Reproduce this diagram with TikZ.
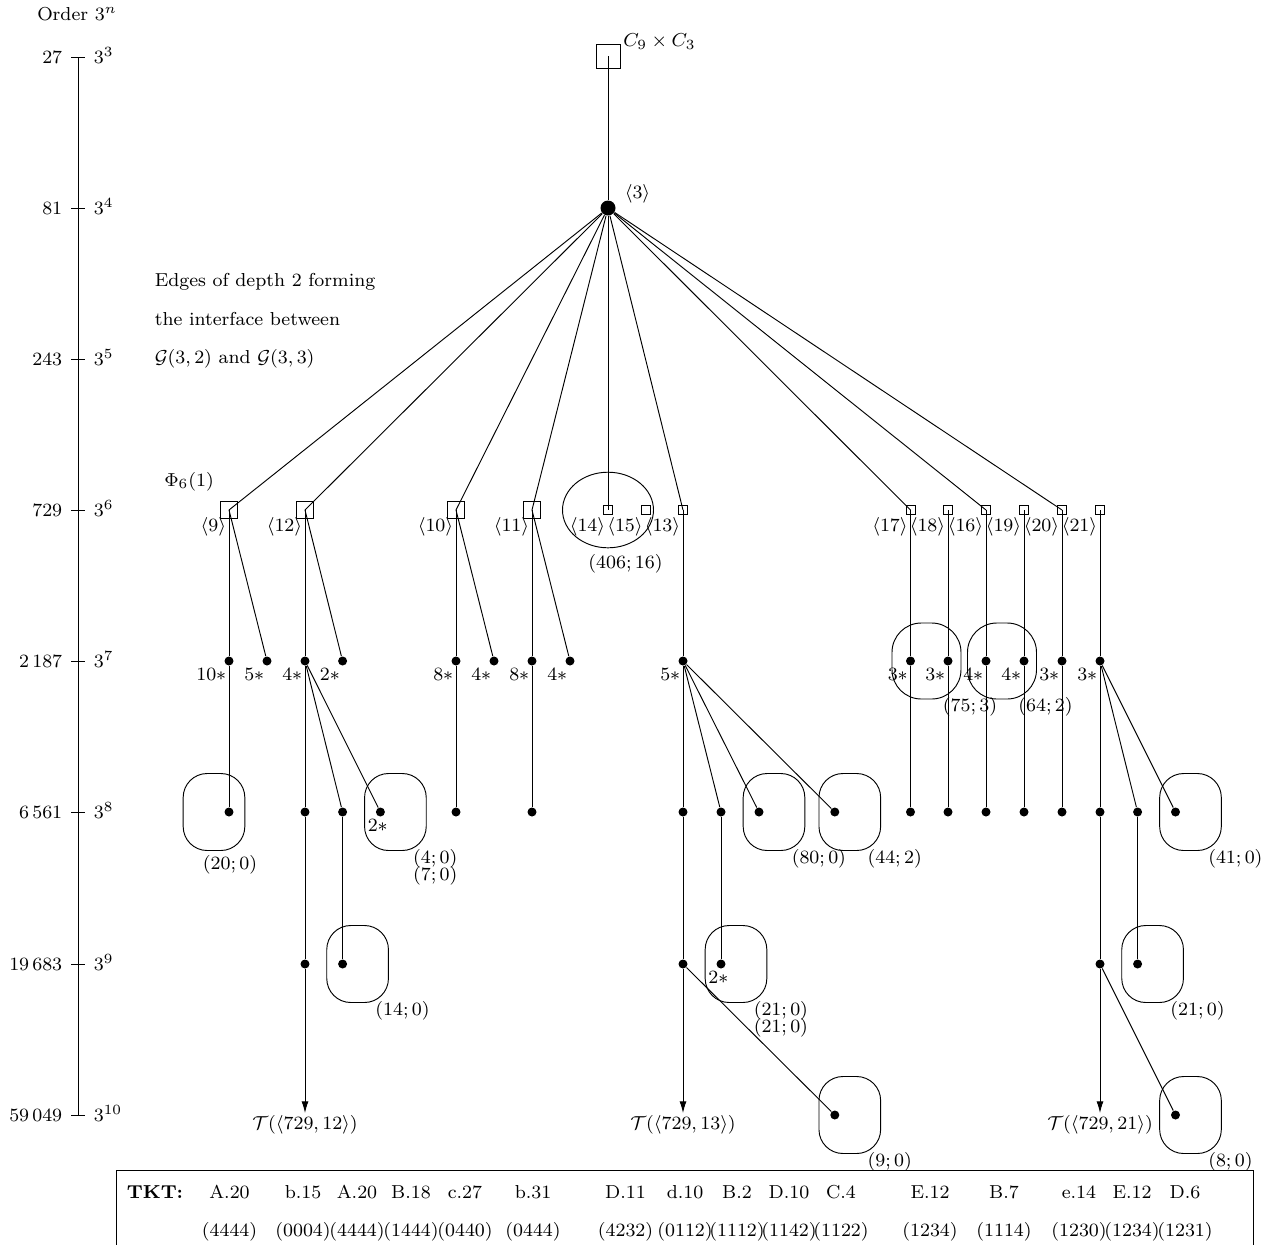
\documentclass[tikz,border=0pt]{standalone}
\usepackage{amsmath, amssymb}
\usepackage{tikz}
\usetikzlibrary{positioning, arrows.meta, shapes.geometric}

\begin{document}
\begin{tikzpicture}[
    x=0.015cm, y=-0.015cm,
    node_lbl/.style={font=\footnotesize, inner sep=1pt},
    node_sq_big/.style={rectangle, draw, inner sep=0pt, minimum size=0.36cm},
    node_sq/.style={rectangle, draw, inner sep=0pt, minimum size=0.255cm},
    node_sq_small/.style={rectangle, draw, inner sep=0pt, minimum size=0.135cm},
    node_dot/.style={circle, fill, inner sep=0pt, minimum size=0.135cm},
    node_dot_big/.style={circle, fill, inner sep=0pt, minimum size=0.225cm},
    node_box/.style={rectangle, draw, rounded corners=0.36cm, inner sep=0pt,
                     minimum width=0.925cm, minimum height=1.155cm},
    node_ring/.style={rectangle, draw, rounded corners=0.44cm, inner sep=0pt,
                      minimum width=1.035cm, minimum height=1.14cm},
    node_oval/.style={ellipse, draw, inner sep=0pt,
                      minimum width=1.365cm, minimum height=1.134cm},
    edge_path/.style={line width=0.4pt},
    edge_arrow/.style={->, >={Latex[length=5pt, width=3pt]}}
  ]
    \useasboundingbox (0,0) rectangle (1272,1245);

    % order axis
    \node[node_lbl] (order) at (77,14) {Order $3^n$};
    \draw (78,57) -- (78,1115);
    \draw (71,57) -- (85,57);
    \draw (71,208) -- (85,208);
    \draw (71,359) -- (85,359);
    \draw (71,510) -- (85,510);
    \draw (71,661) -- (85,661);
    \draw (71,812) -- (85,812);
    \draw (71,964) -- (85,964);
    \draw (71,1115) -- (85,1115);
    \node[node_lbl, anchor=base east] (ax27) at (65,63) {27};
    \node[node_lbl, anchor=base east] (ax81) at (65,214) {81};
    \node[node_lbl, anchor=base east] (ax243) at (65,365) {243};
    \node[node_lbl, anchor=base east] (ax729) at (65,516) {729};
    \node[node_lbl, anchor=base east] (ax2187) at (65,667) {2\,187};
    \node[node_lbl, anchor=base east] (ax6561) at (65,818) {6\,561};
    \node[node_lbl, anchor=base east] (ax19683) at (65,970) {19\,683};
    \node[node_lbl, anchor=base east] (ax59049) at (65,1121) {59\,049};
    \node[node_lbl, anchor=base west] (ex3) at (91,63) {$3^{3}$};
    \node[node_lbl, anchor=base west] (ex4) at (91,214) {$3^{4}$};
    \node[node_lbl, anchor=base west] (ex5) at (91,365) {$3^{5}$};
    \node[node_lbl, anchor=base west] (ex6) at (91,516) {$3^{6}$};
    \node[node_lbl, anchor=base west] (ex7) at (91,667) {$3^{7}$};
    \node[node_lbl, anchor=base west] (ex8) at (91,818) {$3^{8}$};
    \node[node_lbl, anchor=base west] (ex9) at (91,970) {$3^{9}$};
    \node[node_lbl, anchor=base west] (ex10) at (91,1121) {$3^{10}$};

    \node[node_lbl, anchor=base west] (iface1) at (152,286) {Edges of depth 2 forming};
    \node[node_lbl, anchor=base west] (iface2) at (152,325) {the interface between};
    \node[node_lbl, anchor=base west] (iface3) at (152,363) {$\mathcal{G}(3,2)$ and $\mathcal{G}(3,3)$};

    % root and its child
    \node[node_sq_big] (c27) at (608,56) {};
    \node[node_lbl, right=0pt of c27.north east, yshift=0.03cm] (lc27) {$C_9\times C_3$};
    \node[node_dot_big] (d81) at (608,208) {};
    \node[node_lbl, anchor=south west] (ld81) at ([xshift=0.09cm, yshift=0.03cm]d81.east) {$\langle 3\rangle$};

    % order 729
    \node[node_sq] (g9) at (229,510) {};
    \node[node_sq] (g12) at (305,510) {};
    \node[node_sq] (g10) at (456,510) {};
    \node[node_sq] (g11) at (532,510) {};
    \node[node_sq_small] (g14) at (608,510) {};
    \node[node_sq_small] (g15) at (645.5,510) {};
    \node[node_sq_small] (g13) at (683,510) {};
    \node[node_sq_small] (g17) at (910.5,510) {};
    \node[node_sq_small] (g18) at (948,510) {};
    \node[node_sq_small] (g16) at (986,510) {};
    \node[node_sq_small] (g19) at (1024,510) {};
    \node[node_sq_small] (g20) at (1062,510) {};
    \node[node_sq_small] (g21) at (1100,510) {};

    \node[node_lbl, anchor=north east] (lg9) at ([yshift=-0.075cm]g9.center) {$\langle 9\rangle$};
    \node[node_lbl, anchor=north east] (lg12) at ([yshift=-0.075cm]g12.center) {$\langle 12\rangle$};
    \node[node_lbl, anchor=north east] (lg10) at ([yshift=-0.075cm]g10.center) {$\langle 10\rangle$};
    \node[node_lbl, anchor=north east] (lg11) at ([yshift=-0.075cm]g11.center) {$\langle 11\rangle$};
    \node[node_lbl, anchor=north east] (lg14) at ([yshift=-0.075cm]g14.center) {$\langle 14\rangle$};
    \node[node_lbl, anchor=north east] (lg15) at ([yshift=-0.075cm]g15.center) {$\langle 15\rangle$};
    \node[node_lbl, anchor=north east] (lg13) at ([yshift=-0.075cm]g13.center) {$\langle 13\rangle$};
    \node[node_lbl, anchor=north east] (lg17) at ([yshift=-0.075cm]g17.center) {$\langle 17\rangle$};
    \node[node_lbl, anchor=north east] (lg18) at ([yshift=-0.075cm]g18.center) {$\langle 18\rangle$};
    \node[node_lbl, anchor=north east] (lg16) at ([yshift=-0.075cm]g16.center) {$\langle 16\rangle$};
    \node[node_lbl, anchor=north east] (lg19) at ([yshift=-0.075cm]g19.center) {$\langle 19\rangle$};
    \node[node_lbl, anchor=north east] (lg20) at ([yshift=-0.075cm]g20.center) {$\langle 20\rangle$};
    \node[node_lbl, anchor=north east] (lg21) at ([yshift=-0.075cm]g21.center) {$\langle 21\rangle$};
    \node[node_lbl, above left=0.11cm and 0.05cm of g9] (phi) {$\Phi_6(1)$};

    \node[node_oval] (e1415) at (g14) {};
    \node[node_lbl, anchor=north west] (le1415) at ([xshift=-0.335cm, yshift=-0.055cm]e1415.south) {$(406;16)$};

    % order 2187
    \node[node_dot] (n9a) at (229,661) {};
    \node[node_dot] (n9b) at (267,661) {};
    \node[node_dot] (n12a) at (305,661) {};
    \node[node_dot] (n12b) at (342.6,661) {};
    \node[node_dot] (n10a) at (456,661) {};
    \node[node_dot] (n10b) at (494,661) {};
    \node[node_dot] (n11a) at (532,661) {};
    \node[node_dot] (n11b) at (570,661) {};
    \node[node_dot] (n13a) at (683,661) {};
    \node[node_dot] (n17a) at (910.5,661) {};
    \node[node_dot] (n18a) at (948,661) {};
    \node[node_dot] (n16a) at (986,661) {};
    \node[node_dot] (n19a) at (1024,661) {};
    \node[node_dot] (n20a) at (1062,661) {};
    \node[node_dot] (n21a) at (1100,661) {};

    \node[node_lbl, anchor=north east] (ln9a) at (n9a.south) {$10*$};
    \node[node_lbl, anchor=north east] (ln9b) at (n9b.south) {$5*$};
    \node[node_lbl, anchor=north east] (ln12a) at (n12a.south) {$4*$};
    \node[node_lbl, anchor=north east] (ln12b) at (n12b.south) {$2*$};
    \node[node_lbl, anchor=north east] (ln10a) at (n10a.south) {$8*$};
    \node[node_lbl, anchor=north east] (ln10b) at (n10b.south) {$4*$};
    \node[node_lbl, anchor=north east] (ln11a) at (n11a.south) {$8*$};
    \node[node_lbl, anchor=north east] (ln11b) at (n11b.south) {$4*$};
    \node[node_lbl, anchor=north east] (ln13a) at (n13a.south) {$5*$};
    \node[node_lbl, anchor=north east] (ln17a) at (n17a.south) {$3*$};
    \node[node_lbl, anchor=north east] (ln18a) at (n18a.south) {$3*$};
    \node[node_lbl, anchor=north east] (ln16a) at (n16a.south) {$4*$};
    \node[node_lbl, anchor=north east] (ln19a) at (n19a.south) {$4*$};
    \node[node_lbl, anchor=north east] (ln20a) at (n20a.south) {$3*$};
    \node[node_lbl, anchor=north east] (ln21a) at (n21a.south) {$3*$};

    \node[node_ring] (e1718) at ([xshift=0.24cm]n17a) {};
    \node[node_ring] (e1619) at ([xshift=0.24cm]n16a) {};
    \node[node_lbl, anchor=north west] (le1718) at ([xshift=-0.32cm, yshift=0.07cm]e1718.south east) {$(75;3)$};
    \node[node_lbl, anchor=north west] (le1619) at ([xshift=-0.32cm, yshift=0.07cm]e1619.south east) {$(64;2)$};

    % order 6561
    \node[node_dot] (m9) at (229,812) {};
    \node[node_dot] (m12a) at (305,812) {};
    \node[node_dot] (m12b) at (342.6,812) {};
    \node[node_dot] (m12c) at (380.4,812) {};
    \node[node_dot] (m10) at (456,812) {};
    \node[node_dot] (m11) at (532,812) {};
    \node[node_dot] (m13a) at (683,812) {};
    \node[node_dot] (m13b) at (721,812) {};
    \node[node_dot] (m13c) at (759,812) {};
    \node[node_dot] (m13d) at (834.8,812) {};
    \node[node_dot] (m17) at (910.5,812) {};
    \node[node_dot] (m18) at (948,812) {};
    \node[node_dot] (m16) at (986,812) {};
    \node[node_dot] (m19) at (1024,812) {};
    \node[node_dot] (m20) at (1062,812) {};
    \node[node_dot] (m21a) at (1100,812) {};
    \node[node_dot] (m21b) at (1137.6,812) {};
    \node[node_dot] (m21c) at (1175.5,812) {};

    \node[node_box] (b9) at ([xshift=-0.225cm]m9) {};
    \node[node_box] (b12c) at ([xshift=0.225cm]m12c) {};
    \node[node_box] (b13c) at ([xshift=0.225cm]m13c) {};
    \node[node_box] (b13d) at ([xshift=0.225cm]m13d) {};
    \node[node_box] (b21c) at ([xshift=0.225cm]m21c) {};
    \node[node_lbl, anchor=north] (lb9) at ([xshift=0.24cm, yshift=-0.03cm]b9.south) {$(20;0)$};
    \node[node_lbl, anchor=north] (lm12c) at ([xshift=-0.04cm]m12c.south) {$2*$};
    \node[node_lbl, anchor=north west] (lb12c) at ([xshift=-0.245cm, yshift=0.063cm]b12c.south east) {$(4;0)$};
    \node[node_lbl, below=-0.11cm of lb12c] (lb12cc) {$(7;0)$};
    \node[node_lbl, anchor=north west] (lb13c) at ([xshift=-0.245cm, yshift=0.063cm]b13c.south east) {$(80;0)$};
    \node[node_lbl, anchor=north west] (lb13d) at ([xshift=-0.245cm, yshift=0.063cm]b13d.south east) {$(44;2)$};
    \node[node_lbl, anchor=north west] (lb21c) at ([xshift=-0.245cm, yshift=0.063cm]b21c.south east) {$(41;0)$};

    % order 19683
    \node[node_dot] (k12a) at (305,964) {};
    \node[node_dot] (k12b) at (342.6,964) {};
    \node[node_dot] (k13a) at (683,964) {};
    \node[node_dot] (k13b) at (721,964) {};
    \node[node_dot] (k21a) at (1100,964) {};
    \node[node_dot] (k21b) at (1137.6,964) {};

    \node[node_box] (b12k) at ([xshift=0.225cm]k12b) {};
    \node[node_box] (b13k) at ([xshift=0.225cm]k13b) {};
    \node[node_box] (b21k) at ([xshift=0.225cm]k21b) {};
    \node[node_lbl, anchor=north west] (lb12k) at ([xshift=-0.245cm, yshift=0.063cm]b12k.south east) {$(14;0)$};
    \node[node_lbl, anchor=north] (lk13b) at ([xshift=-0.04cm]k13b.south) {$2*$};
    \node[node_lbl, anchor=north west] (lb13k) at ([xshift=-0.245cm, yshift=0.063cm]b13k.south east) {$(21;0)$};
    \node[node_lbl, below=-0.11cm of lb13k] (lb13kk) {$(21;0)$};
    \node[node_lbl, anchor=north west] (lb21k) at ([xshift=-0.245cm, yshift=0.063cm]b21k.south east) {$(21;0)$};

    % order 59049
    \node[node_dot] (j13) at (834.8,1115) {};
    \node[node_dot] (j21) at (1175.5,1115) {};
    \node[node_box] (b13j) at ([xshift=0.225cm]j13) {};
    \node[node_box] (b21j) at ([xshift=0.225cm]j21) {};
    \node[node_lbl, anchor=north west] (lb13j) at ([xshift=-0.245cm, yshift=0.063cm]b13j.south east) {$(9;0)$};
    \node[node_lbl, anchor=north west] (lb21j) at ([xshift=-0.245cm, yshift=0.063cm]b21j.south east) {$(8;0)$};
    \node[node_lbl, anchor=north] (T12) at (305,1113) {$\mathcal{T}(\langle 729,12\rangle)$};
    \node[node_lbl, anchor=north] (T13) at (683,1113) {$\mathcal{T}(\langle 729,13\rangle)$};
    \node[node_lbl, anchor=north] (T21) at (1100,1113) {$\mathcal{T}(\langle 729,21\rangle)$};

    % edges
    \draw[edge_path] (c27.center) -- (d81);
    \draw[edge_path] (d81) -- (g9.center);
    \draw[edge_path] (d81) -- (g12.center);
    \draw[edge_path] (d81) -- (g10.center);
    \draw[edge_path] (d81) -- (g11.center);
    \draw[edge_path] (d81) -- (g14.center);
    \draw[edge_path] (d81) -- (g13.center);
    \draw[edge_path] (d81) -- (g17.center);
    \draw[edge_path] (d81) -- (g16.center);
    \draw[edge_path] (d81) -- (g20.center);

    \draw[edge_path] (g9.center) -- (n9a);
    \draw[edge_path] (g9.center) -- (n9b);
    \draw[edge_path] (g12.center) -- (n12a);
    \draw[edge_path] (g12.center) -- (n12b);
    \draw[edge_path] (g10.center) -- (n10a);
    \draw[edge_path] (g10.center) -- (n10b);
    \draw[edge_path] (g11.center) -- (n11a);
    \draw[edge_path] (g11.center) -- (n11b);
    \draw[edge_path] (g13.center) -- (n13a);
    \draw[edge_path] (g17.center) -- (n17a);
    \draw[edge_path] (g18.center) -- (n18a);
    \draw[edge_path] (g16.center) -- (n16a);
    \draw[edge_path] (g19.center) -- (n19a);
    \draw[edge_path] (g20.center) -- (n20a);
    \draw[edge_path] (g21.center) -- (n21a);

    \draw[edge_path] (n9a) -- (m9);
    \draw[edge_path] (n12a) -- (m12a);
    \draw[edge_path] (n12a) -- (m12b);
    \draw[edge_path] (n12a) -- (m12c);
    \draw[edge_path] (n10a) -- (m10);
    \draw[edge_path] (n11a) -- (m11);
    \draw[edge_path] (n13a) -- (m13a);
    \draw[edge_path] (n13a) -- (m13b);
    \draw[edge_path] (n13a) -- (m13c);
    \draw[edge_path] (n13a) -- (m13d);
    \draw[edge_path] (n17a) -- (m17);
    \draw[edge_path] (n18a) -- (m18);
    \draw[edge_path] (n16a) -- (m16);
    \draw[edge_path] (n19a) -- (m19);
    \draw[edge_path] (n20a) -- (m20);
    \draw[edge_path] (n21a) -- (m21a);
    \draw[edge_path] (n21a) -- (m21b);
    \draw[edge_path] (n21a) -- (m21c);

    \draw[edge_path] (m12a) -- (k12a);
    \draw[edge_path] (m12b) -- (k12b);
    \draw[edge_path] (m13a) -- (k13a);
    \draw[edge_path] (m13b) -- (k13b);
    \draw[edge_path] (m21a) -- (k21a);
    \draw[edge_path] (m21b) -- (k21b);

    \draw[edge_arrow] (k12a) -- (T12.north);
    \draw[edge_arrow] (k13a) -- (T13.north);
    \draw[edge_arrow] (k21a) -- (T21.north);
    \draw[edge_path] (k13a) -- (j13);
    \draw[edge_path] (k21a) -- (j21);

    % TKT table
    \draw (116,1245) |- (1253,1170) -- (1253,1245);
    \node[node_lbl, anchor=base] (tkt) at (155,1198) {\textbf{TKT:}};
    \node[node_lbl, anchor=base] (tkt01) at (229.5,1198) {A.20};
    \node[node_lbl, anchor=base] (tkt02) at (303,1198) {b.15};
    \node[node_lbl, anchor=base] (tkt03) at (357,1198) {A.20};
    \node[node_lbl, anchor=base] (tkt04) at (411,1198) {B.18};
    \node[node_lbl, anchor=base] (tkt05) at (465,1198) {c.27};
    \node[node_lbl, anchor=base] (tkt06) at (533,1198) {b.31};
    \node[node_lbl, anchor=base] (tkt07) at (625.5,1198) {D.11};
    \node[node_lbl, anchor=base] (tkt08) at (685,1198) {d.10};
    \node[node_lbl, anchor=base] (tkt09) at (737,1198) {B.2};
    \node[node_lbl, anchor=base] (tkt10) at (789,1198) {D.10};
    \node[node_lbl, anchor=base] (tkt11) at (841,1198) {C.4};
    \node[node_lbl, anchor=base] (tkt12) at (930,1198) {E.12};
    \node[node_lbl, anchor=base] (tkt13) at (1004,1198) {B.7};
    \node[node_lbl, anchor=base] (tkt14) at (1079,1198) {e.14};
    \node[node_lbl, anchor=base] (tkt15) at (1132,1198) {E.12};
    \node[node_lbl, anchor=base] (tkt16) at (1185,1198) {D.6};
    \node[node_lbl, anchor=base] (cod01) at (229.5,1236) {(4444)};
    \node[node_lbl, anchor=base] (cod02) at (303,1236) {(0004)};
    \node[node_lbl, anchor=base] (cod03) at (357,1236) {(4444)};
    \node[node_lbl, anchor=base] (cod04) at (411,1236) {(1444)};
    \node[node_lbl, anchor=base] (cod05) at (465,1236) {(0440)};
    \node[node_lbl, anchor=base] (cod06) at (533,1236) {(0444)};
    \node[node_lbl, anchor=base] (cod07) at (625.5,1236) {(4232)};
    \node[node_lbl, anchor=base] (cod08) at (685,1236) {(0112)};
    \node[node_lbl, anchor=base] (cod09) at (737,1236) {(1112)};
    \node[node_lbl, anchor=base] (cod10) at (789,1236) {(1142)};
    \node[node_lbl, anchor=base] (cod11) at (841,1236) {(1122)};
    \node[node_lbl, anchor=base] (cod12) at (930,1236) {(1234)};
    \node[node_lbl, anchor=base] (cod13) at (1004,1236) {(1114)};
    \node[node_lbl, anchor=base] (cod14) at (1079,1236) {(1230)};
    \node[node_lbl, anchor=base] (cod15) at (1132,1236) {(1234)};
    \node[node_lbl, anchor=base] (cod16) at (1185,1236) {(1231)};
  \end{tikzpicture}
\end{document}
